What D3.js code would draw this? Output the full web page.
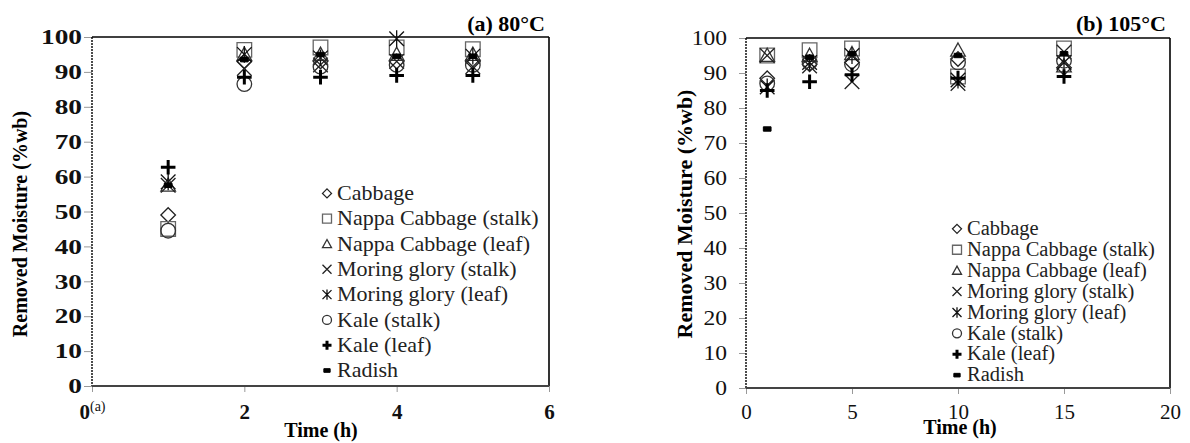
<!DOCTYPE html>
<html>
<head>
<meta charset="utf-8">
<script src="https://cdn.jsdelivr.net/npm/d3@7"></script>
<style>
  body { margin: 0; background: #fff; }
  svg { font-family: "Liberation Serif", "Times New Roman", serif; }
</style>
</head>
<body>
<div id="chart"></div>
<script>
// series names (legend order)
var seriesNames = ["Cabbage", "Nappa Cabbage (stalk)", "Nappa Cabbage (leaf)",
  "Moring glory (stalk)", "Moring glory (leaf)", "Kale (stalk)", "Kale (leaf)", "Radish"];
var seriesShapes = ["diamond", "square", "triangle", "cross", "asterisk", "circle", "plus", "dash"];

// (a) 80°C
var timesA = [1, 2, 3, 4, 5];
var cabbageA     = [49, 93, 93, 93, 93];
var nappaStalkA  = [45, 96.3, 97, 97, 96.5];
var nappaLeafA   = [57.5, 95, 95, 95, 95];
var moringStalkA = [57.5, 91, 92, 93, 91.5];
var moringLeafA  = [58.5, 95, 94, 99.5, 94.5];
var kaleStalkA   = [44.5, 86.5, 91.5, 92, 92];
var kaleLeafA    = [62.7, 88.5, 88.5, 89, 89];
var radishA      = [57.5, 93.5, 95, 94.5, 94.5];

// (b) 105°C
var timesB = [1, 3, 5, 10, 15];
var cabbageB     = [88.5, 92.5, 93, 94, 91.5];
var nappaStalkB  = [95, 96.5, 97, 89, 97];
var nappaLeafB   = [95, 95, 95.5, 96.5, 92];
var moringStalkB = [95, 92, 87.5, 87, 96];
var moringLeafB  = [86, 93, 95, 88, 93];
var kaleStalkB   = [87, 93, 92.5, 93, 93.5];
var kaleLeafB    = [85, 87.5, 89.5, 88.5, 89];
var radishB      = [74, 94.5, 95.5, 95, 95.5];

var yTicks = [0, 10, 20, 30, 40, 50, 60, 70, 80, 90, 100];
var xTicksA = [0, 2, 4, 6];
var xTicksB = [0, 5, 10, 15, 20];

var seriesA = [cabbageA, nappaStalkA, nappaLeafA, moringStalkA, moringLeafA, kaleStalkA, kaleLeafA, radishA];
var seriesB = [cabbageB, nappaStalkB, nappaLeafB, moringStalkB, moringLeafB, kaleStalkB, kaleLeafB, radishB];

var strokeOf = {
  diamond: "#222", square: "#666", triangle: "#333", cross: "#222",
  asterisk: "#111", circle: "#333", plus: "#000", dash: "#000"
};

function shapePath(shape, r) {
  var p = d3.path();
  if (shape === "diamond") {
    p.moveTo(0, -r); p.lineTo(r, 0); p.lineTo(0, r); p.lineTo(-r, 0); p.closePath();
  } else if (shape === "square") {
    p.rect(-r, -r, 2 * r, 2 * r);
  } else if (shape === "triangle") {
    p.moveTo(0, -r); p.lineTo(r, r * 0.8); p.lineTo(-r, r * 0.8); p.closePath();
  } else if (shape === "cross" || shape === "asterisk") {
    p.moveTo(-r, -r); p.lineTo(r, r); p.moveTo(-r, r); p.lineTo(r, -r);
    if (shape === "asterisk") { p.moveTo(0, -r * 1.15); p.lineTo(0, r * 1.15); }
  } else if (shape === "circle") {
    p.moveTo(r, 0); p.arc(0, 0, r, 0, 2 * Math.PI);
  } else if (shape === "plus") {
    p.moveTo(-r, 0); p.lineTo(r, 0); p.moveTo(0, -r); p.lineTo(0, r);
  } else if (shape === "dash") {
    p.rect(-r * 0.7, -r * 0.4, r * 1.4, r * 0.8);
  }
  return p.toString();
}

function drawMarker(g, shape, r) {
  g.append("path")
    .attr("d", shapePath(shape, r))
    .attr("fill", shape === "dash" ? "#000" : "none")
    .attr("stroke", strokeOf[shape])
    .attr("stroke-width", shape === "plus" ? 3 : (shape === "dash" ? 1 : 1.3));
}

var svg = d3.select("#chart").append("svg")
  .attr("width", 1190).attr("height", 443);

function panel(cfg) {
  var x = d3.scaleLinear().domain(cfg.xDomain).range([cfg.left, cfg.right]);
  var y = d3.scaleLinear().domain([0, 100]).range([cfg.bottom, cfg.top]);
  var g = svg.append("g");

  // y axis ticks
  var ya = g.append("g")
    .attr("transform", "translate(" + cfg.left + ",0)")
    .call(d3.axisLeft(y).tickValues(yTicks).tickSize(cfg.yTickSize).tickPadding(cfg.yPad).tickFormat(d3.format("d")));
  ya.select(".domain").remove();
  ya.selectAll(".tick line").attr("stroke", "#999");
  ya.selectAll(".tick text")
    .attr("font-family", "Liberation Serif, serif")
    .attr("font-size", cfg.yFont)
    .attr("font-weight", cfg.yBold ? "bold" : "normal")
    .attr("fill", "#111")
    .each(function () {
      var w = this.getComputedTextLength();
      d3.select(this).attr("textLength", w * cfg.yStretch).attr("lengthAdjust", "spacingAndGlyphs");
    });

  // x axis ticks
  var xa = g.append("g")
    .attr("transform", "translate(0," + cfg.bottom + ")")
    .call(d3.axisBottom(x).tickValues(cfg.xTicks).tickSize(6).tickPadding(cfg.xPad).tickFormat(d3.format("d")));
  xa.select(".domain").remove();
  xa.selectAll(".tick line").attr("stroke", "#999");
  xa.selectAll(".tick text")
    .attr("font-family", "Liberation Serif, serif")
    .attr("font-size", cfg.xFont)
    .attr("font-weight", cfg.xBold ? "bold" : "normal")
    .attr("fill", "#111");
  if (cfg.zeroNote) {
    xa.selectAll(".tick text").filter(function (d) { return d === 0; })
      .append("tspan").attr("dy", "-0.55em").attr("font-size", 14).attr("font-weight", "normal")
      .text("(a)");
  }

  // frame
  g.append("line").attr("x1", cfg.left).attr("x2", cfg.right).attr("y1", cfg.top).attr("y2", cfg.top)
    .attr("stroke", "#000").attr("stroke-width", 1.6);
  g.append("line").attr("x1", cfg.right).attr("x2", cfg.right).attr("y1", cfg.top).attr("y2", cfg.bottom)
    .attr("stroke", "#000").attr("stroke-width", 1.6);
  g.append("line").attr("x1", cfg.left).attr("x2", cfg.left).attr("y1", cfg.top).attr("y2", cfg.bottom)
    .attr("stroke", "#000").attr("stroke-width", 1.4).attr("stroke-dasharray", "2,1");
  g.append("line").attr("x1", cfg.left).attr("x2", cfg.right).attr("y1", cfg.bottom).attr("y2", cfg.bottom)
    .attr("stroke", "#444").attr("stroke-width", 2.2);

  // markers
  cfg.series.forEach(function (vals, i) {
    var shape = seriesShapes[i];
    g.append("g").selectAll("g")
      .data(vals.map(function (v, j) { return { t: cfg.times[j], v: v }; }))
      .join("g")
      .attr("transform", function (d) { return "translate(" + x(d.t) + "," + y(d.v) + ")"; })
      .each(function () { drawMarker(d3.select(this), shape, shape === "dash" ? 5.5 : 7.3); });
  });

  // legend
  var lg = g.append("g");
  seriesNames.forEach(function (name, i) {
    var row = lg.append("g")
      .attr("transform", "translate(" + cfg.legX + "," + (cfg.legY + i * cfg.legStep) + ")");
    var m = row.append("g").attr("transform", "translate(0," + (-cfg.legFont * 0.3) + ")");
    drawMarker(m, seriesShapes[i], 4.5);
    row.append("text").attr("x", cfg.legTextDx).attr("y", 0)
      .attr("font-family", "Liberation Serif, serif")
      .attr("font-size", cfg.legFont).attr("fill", "#222").text(name);
  });

  // titles
  g.append("text").attr("x", cfg.right - 4).attr("y", 31)
    .attr("text-anchor", "end").attr("font-size", 22).attr("font-weight", "bold")
    .text(cfg.title);
  g.append("text").attr("x", cfg.xTitleX).attr("y", cfg.xTitleY)
    .attr("text-anchor", "middle").attr("font-size", 20).attr("font-weight", "bold")
    .text("Time (h)");
  g.append("text")
    .attr("transform", "translate(" + cfg.yTitleX + "," + cfg.yTitleY + ") rotate(-90)")
    .attr("text-anchor", "middle").attr("font-size", cfg.yTitleFont).attr("font-weight", "bold")
    .text("Removed Moisture (%wb)");
}

panel({
  xDomain: [0, 6], left: 92, right: 549, top: 37, bottom: 386,
  times: timesA, series: seriesA, xTicks: xTicksA,
  yTickSize: 8, yPad: 2, yFont: 21, yBold: true, yStretch: 1.3,
  xPad: 12, xFont: 21, xBold: true, zeroNote: true,
  legX: 327, legY: 200, legStep: 25.3, legTextDx: 10, legFont: 22,
  title: "(a) 80°C", xTitleX: 321, xTitleY: 437, yTitleX: 27, yTitleY: 224, yTitleFont: 20
});

panel({
  xDomain: [0, 20], left: 746, right: 1170, top: 38, bottom: 388,
  times: timesB, series: seriesB, xTicks: xTicksB,
  yTickSize: 7, yPad: 12, yFont: 21, yBold: false, yStretch: 1.12,
  xPad: 10, xFont: 21, xBold: false, zeroNote: false,
  legX: 957, legY: 235, legStep: 20.9, legTextDx: 10, legFont: 20.5,
  title: "(b) 105°C", xTitleX: 960, xTitleY: 434, yTitleX: 692, yTitleY: 214, yTitleFont: 22
});
</script>
</body>
</html>
